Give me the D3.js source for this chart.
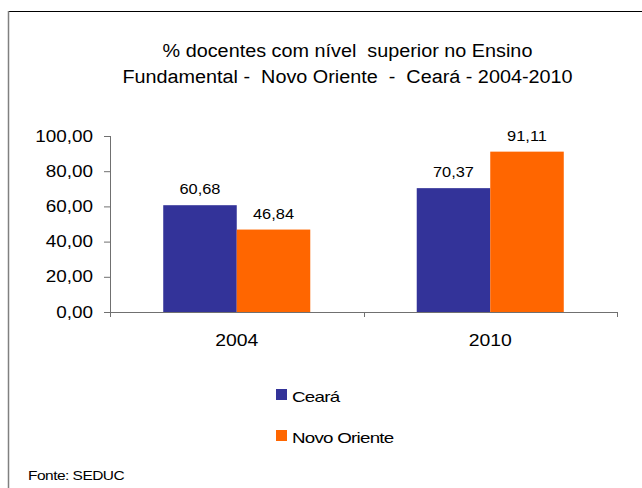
<!DOCTYPE html>
<html>
<head>
<meta charset="utf-8">
<script src="https://cdn.jsdelivr.net/npm/d3@7"></script>
<style>
  body { margin: 0; background: #fff; }
  svg { display: block; font-family: "Liberation Sans", Arial, sans-serif; }
  text { white-space: pre; fill: #000; }
</style>
</head>
<body>
<div id="chart"></div>
<script>
const categories = ['2004', '2010']
const seriesNames = ['Ceará', 'Novo Oriente']
const cearaValues = [60.68, 70.37]
const novoOrienteValues = [46.84, 91.11]
const yTicks = [0, 20, 40, 60, 80, 100]
const titleLines = ['% docentes com nível  superior no Ensino', 'Fundamental -  Novo Oriente  -  Ceará - 2004-2010']
const sourceText = 'Fonte: SEDUC'

const WIDTH = 642
const HEIGHT = 488
const PADDING = {top: 136, right: 25, bottom: 176, left: 110}
const COLORS = ['#333399', '#ff6600']
const AXIS_COLOR = '#707070'

const seriesValues = [cearaValues, novoOrienteValues]

const svg = d3.select('#chart').append('svg')
  .attr('width', WIDTH).attr('height', HEIGHT)

// the original text is a bit wider than Arial, stretch it out
function stretch (sel, k) {
  sel.each(function () {
    const w = this.getComputedTextLength()
    d3.select(this).attr('textLength', w * k).attr('lengthAdjust', 'spacingAndGlyphs')
  })
}

// frame (only top and left edges visible)
svg.append('line').attr('x1', 8).attr('x2', WIDTH).attr('y1', 11.5).attr('y2', 11.5)
  .attr('stroke', '#000').attr('stroke-width', 1)
svg.append('line').attr('x1', 8.5).attr('x2', 8.5).attr('y1', 11).attr('y2', HEIGHT)
  .attr('stroke', '#808080').attr('stroke-width', 1.5)

const x = d3.scaleBand().domain(categories).range([PADDING.left, WIDTH - PADDING.right])
const y = d3.scaleLinear().domain([0, 100]).range([HEIGHT - PADDING.bottom, PADDING.top])
const barW = x.bandwidth() * 0.29
const xInner = d3.scaleBand().domain(seriesNames)
  .range([x.bandwidth() / 2 - barW, x.bandwidth() / 2 + barW])

const fmt = v => d3.format('.2f')(v).replace('.', ',')

// title
svg.append('g').selectAll('text').data(titleLines).enter().append('text')
  .attr('x', 347.5).attr('y', (d, i) => 57 + i * 26)
  .attr('text-anchor', 'middle').attr('font-size', 18)
  .text(d => d)
  .call(stretch, 1.1)

// bars
const groups = svg.append('g').selectAll('g').data(categories).enter().append('g')
  .attr('transform', d => `translate(${x(d)},0)`)

groups.selectAll('rect')
  .data((c, ci) => seriesNames.map((s, si) => ({s, si, v: seriesValues[si][ci]})))
  .enter().append('rect')
  .attr('x', d => xInner(d.s))
  .attr('width', xInner.bandwidth())
  .attr('y', d => y(d.v))
  .attr('height', d => y(0) - y(d.v))
  .attr('fill', d => COLORS[d.si])

groups.selectAll('text.val')
  .data((c, ci) => seriesNames.map((s, si) => ({s, si, v: seriesValues[si][ci]})))
  .enter().append('text').classed('val', true)
  .attr('x', d => xInner(d.s) + xInner.bandwidth() / 2)
  .attr('y', d => y(d.v) - 11)
  .attr('text-anchor', 'middle').attr('font-size', 14).attr('fill', '#222')
  .text(d => fmt(d.v))
  .call(stretch, 1.17)

// y axis
const yAxis = svg.append('g').attr('transform', `translate(${PADDING.left},0)`)
  .call(d3.axisLeft(y).tickValues(yTicks).tickFormat(fmt).tickSize(6).tickSizeOuter(0).tickPadding(11))
yAxis.select('.domain').attr('stroke', AXIS_COLOR)
  .attr('d', `M0.5,${y(100)}V${y(0) + 5}`)
yAxis.selectAll('.tick line').attr('stroke', AXIS_COLOR)
yAxis.selectAll('.tick text').attr('font-size', 16).attr('font-family', null).attr('fill', '#000')
  .call(stretch, 1.18)

// x axis
const xAxis = svg.append('g').attr('transform', `translate(0,${y(0)})`)
  .call(d3.axisBottom(x).tickSize(0).tickSizeOuter(0).tickPadding(22))
xAxis.select('.domain').attr('stroke', AXIS_COLOR)
xAxis.selectAll('.tick text').attr('font-size', 17).attr('font-family', null).attr('fill', '#000')
  .call(stretch, 1.14)
xAxis.selectAll('line.bound').data(categories).enter().append('line').classed('bound', true)
  .attr('x1', d => Math.round(x(d) + x.bandwidth()) + 0.5)
  .attr('x2', d => Math.round(x(d) + x.bandwidth()) + 0.5)
  .attr('y1', 0).attr('y2', 5)
  .attr('stroke', AXIS_COLOR)

// legend
const legend = svg.append('g').selectAll('g').data(seriesNames).enter().append('g')
  .attr('transform', (d, i) => `translate(276,${389 + i * 41})`)
legend.append('rect').attr('width', 11).attr('height', 11).attr('fill', (d, i) => COLORS[i])
legend.append('text').attr('x', 16).attr('y', 13).attr('font-size', 15)
  .attr('letter-spacing', -0.6)
  .text(d => d)
  .call(stretch, 1.25)

// source
svg.append('text').attr('x', 28).attr('y', 480).attr('font-size', 12)
  .attr('letter-spacing', -0.4)
  .text(sourceText)
  .call(stretch, 1.29)
</script>
</body>
</html>
